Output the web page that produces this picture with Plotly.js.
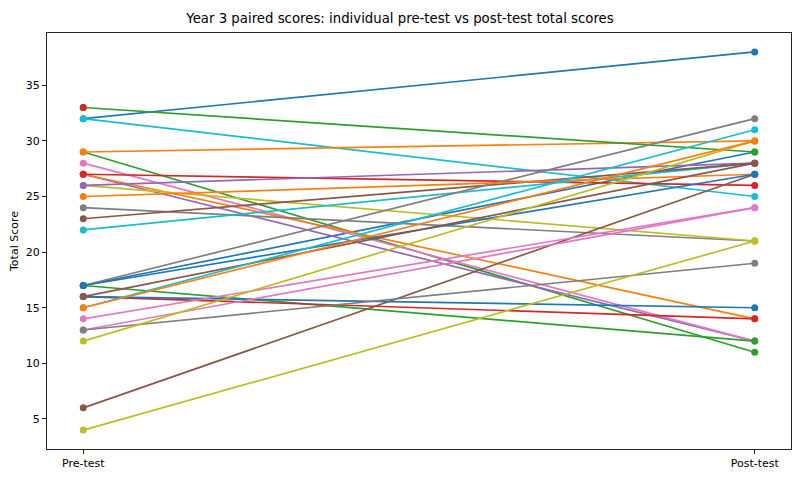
<!DOCTYPE html>
<html>
<head>
<meta charset="utf-8">
<script src="https://cdn.plot.ly/plotly-3.0.1.min.js"></script>
<style>
  html, body { margin: 0; padding: 0; background: #ffffff; }
  #chart { width: 800px; height: 480px; }
</style>
</head>
<body>
<div id="chart"></div>
<script>
// paired scores, one entry per student (null = no post-test)
const preScores  = [17, 32, 32, 29, 29, 33, 33, 27, 28, 27, 27, 24, 26, 26, 22, 23, 17, 17, 25, 6, 17, 16, 16, 16, 14, 13, 13, 12, 15, 15, 4];
const postScores = [29, 38, 25, 11, 30, 29, null, 12, 12, 14, 26, 21, 21, 28, 28, 28, 32, 12, 27, 27, 27, 14, 15, 28, 24, 24, 19, 30, 31, 30, 21];
const lineColors = ['#1f77b4', '#1f77b4', '#17becf', '#2ca02c', '#ff7f0e', '#2ca02c', '#d62728', '#9467bd',
                    '#e377c2', '#ff7f0e', '#d62728', '#7f7f7f', '#bcbd22', '#9467bd', '#17becf', '#8c564b',
                    '#7f7f7f', '#2ca02c', '#ff7f0e', '#8c564b', '#1f77b4', '#d62728', '#1f77b4', '#8c564b',
                    '#e377c2', '#e377c2', '#7f7f7f', '#bcbd22', '#17becf', '#ff7f0e', '#bcbd22'];
const xLabels = ['Pre-test', 'Post-test'];
const yTicks = [5, 10, 15, 20, 25, 30, 35];

const FONT = 'DejaVu Sans, sans-serif';

const traces = preScores.map((pre, i) => ({
  type: 'scatter',
  mode: 'lines+markers',
  x: [0, 1],
  y: [pre, postScores[i]],
  line: { color: lineColors[i], width: 1.7 },
  marker: { color: lineColors[i], size: 7 },
  showlegend: false,
  hoverinfo: 'y',
}));

const axisStyle = {
  showline: true,
  mirror: true,
  linecolor: '#222222',
  linewidth: 1,
  showgrid: false,
  zeroline: false,
  ticks: 'outside',
  ticklen: 4,
  tickcolor: '#222222',
  tickfont: { family: FONT, size: 11, color: '#000000' },
};

const layout = {
  width: 800,
  height: 480,
  paper_bgcolor: '#ffffff',
  plot_bgcolor: '#ffffff',
  margin: { l: 47, r: 9, t: 33, b: 31 },
  title: {
    text: 'Year 3 paired scores: individual pre-test vs post-test total scores',
    font: { family: FONT, size: 13.3, color: '#000000' },
    x: 0.5, xanchor: 'center', y: 0.962, yanchor: 'middle',
  },
  xaxis: {
    ...axisStyle,
    range: [-0.054, 1.054],
    tickvals: [0, 1],
    ticktext: xLabels,
  },
  yaxis: {
    ...axisStyle,
    range: [2.3, 39.7],
    tickvals: yTicks,
    title: { text: 'Total Score', font: { family: FONT, size: 11, color: '#000000' }, standoff: 4 },
  },
};

Plotly.newPlot('chart', traces, layout, { displayModeBar: false, staticPlot: true });
</script>
</body>
</html>
